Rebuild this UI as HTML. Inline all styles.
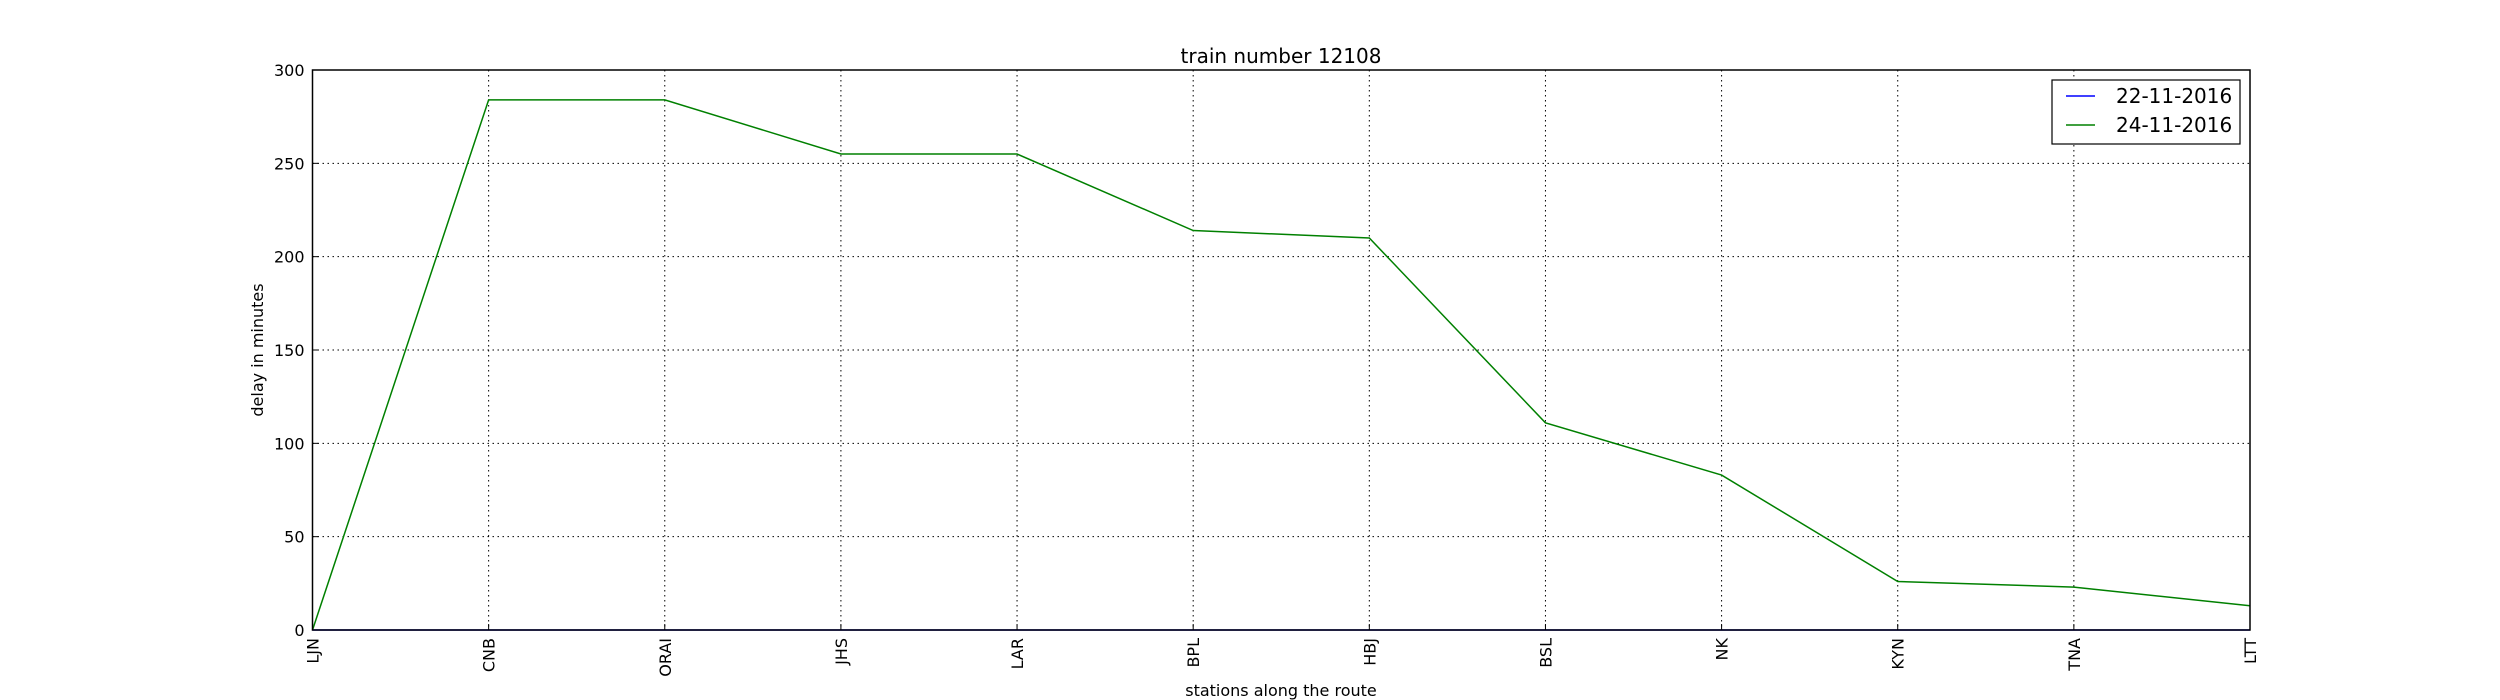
<!DOCTYPE html>
<html><head><meta charset="utf-8"><style>
html,body{margin:0;padding:0;background:#fff;}
svg{display:block;font-family:"DejaVu Sans","Liberation Sans",sans-serif;}
</style></head><body>
<svg id="chart" width="2500" height="700" viewBox="0 0 2500 700" xmlns="http://www.w3.org/2000/svg">
<rect width="2500" height="700" fill="#fff"/>
<g id="grid"></g>
<g id="series"></g>
<rect x="312.5" y="70" width="1937.5" height="560" fill="none" stroke="#000" stroke-width="1.5"/>
<g id="ticks"></g>
<text x="1281" y="63" font-size="20" text-anchor="middle">train number 12108</text>
<text x="1281" y="696" font-size="16" text-anchor="middle">stations along the route</text>
<text transform="translate(263,350) rotate(-90)" font-size="16" text-anchor="middle">delay in minutes</text>
<g>
<rect x="2052" y="80" width="188" height="64" fill="#fff" stroke="#000" stroke-width="1.2"/>
<line x1="2066" y1="96" x2="2095" y2="96" stroke="#0000ff" stroke-width="1.5"/>
<text x="2116" y="103" font-size="20">22-11-2016</text>
<line x1="2066" y1="125" x2="2095" y2="125" stroke="#008000" stroke-width="1.5"/>
<text x="2116" y="132" font-size="20">24-11-2016</text>
</g>
</svg>
<script>
const stations = ["LJN","CNB","ORAI","JHS","LAR","BPL","HBJ","BSL","NK","KYN","TNA","LTT"];
const delay22 = [0,0,0,0,0,0,0,0,0,0,0,0];
const delay24 = [0,284,284,255,255,214,210,111,83,26,23,13];
const yTicks = [0,50,100,150,200,250,300];
const NS="http://www.w3.org/2000/svg";
const L=312.5,R=2250,T=70,B=630,YMAX=300;
const xs=i=>L+(R-L)*i/(stations.length-1);
const ys=v=>B-(B-T)*v/YMAX;
function mk(tag,attrs,parent){const e=document.createElementNS(NS,tag);for(const k in attrs)e.setAttribute(k,attrs[k]);parent.appendChild(e);return e;}
const grid=document.getElementById('grid'),ticks=document.getElementById('ticks'),series=document.getElementById('series');
yTicks.forEach(v=>{
  const y=ys(v);
  const g=mk('line',{x1:L,x2:R,y1:y,y2:y,stroke:'#000','stroke-width':1,'stroke-dasharray':'1.5,3.5'},grid);
  
  
  const t=mk('line',{x1:L,x2:L+6,y1:y,y2:y,stroke:'#000','stroke-width':1},ticks);
  
  
  const lb=mk('text',{x:L-8,y:y+6,'font-size':16,'text-anchor':'end'},ticks);
  lb.textContent=v;
  
  
});
stations.forEach((s,i)=>{
  const x=xs(i);
  const g=mk('line',{x1:x,x2:x,y1:T,y2:B,stroke:'#000','stroke-width':1,'stroke-dasharray':'1.5,3.5'},grid);
  
  
  const t=mk('line',{x1:x,x2:x,y1:B,y2:B-6,stroke:'#000','stroke-width':1},ticks);
  
  
  const lb=mk('text',{transform:`translate(${x+6},${B+8}) rotate(-90)`,'font-size':16,'text-anchor':'end'},ticks);
  lb.textContent=s;
  
  
});
function line(vals,color,name){
  const p=mk('polyline',{points:vals.map((v,i)=>xs(i)+','+ys(v)).join(' '),fill:'none',stroke:color,'stroke-width':1.5},series);
  
  
}
line(delay22,'#0000ff','line-22-11-2016');
line(delay24,'#008000','line-24-11-2016');
</script>
</body></html>
